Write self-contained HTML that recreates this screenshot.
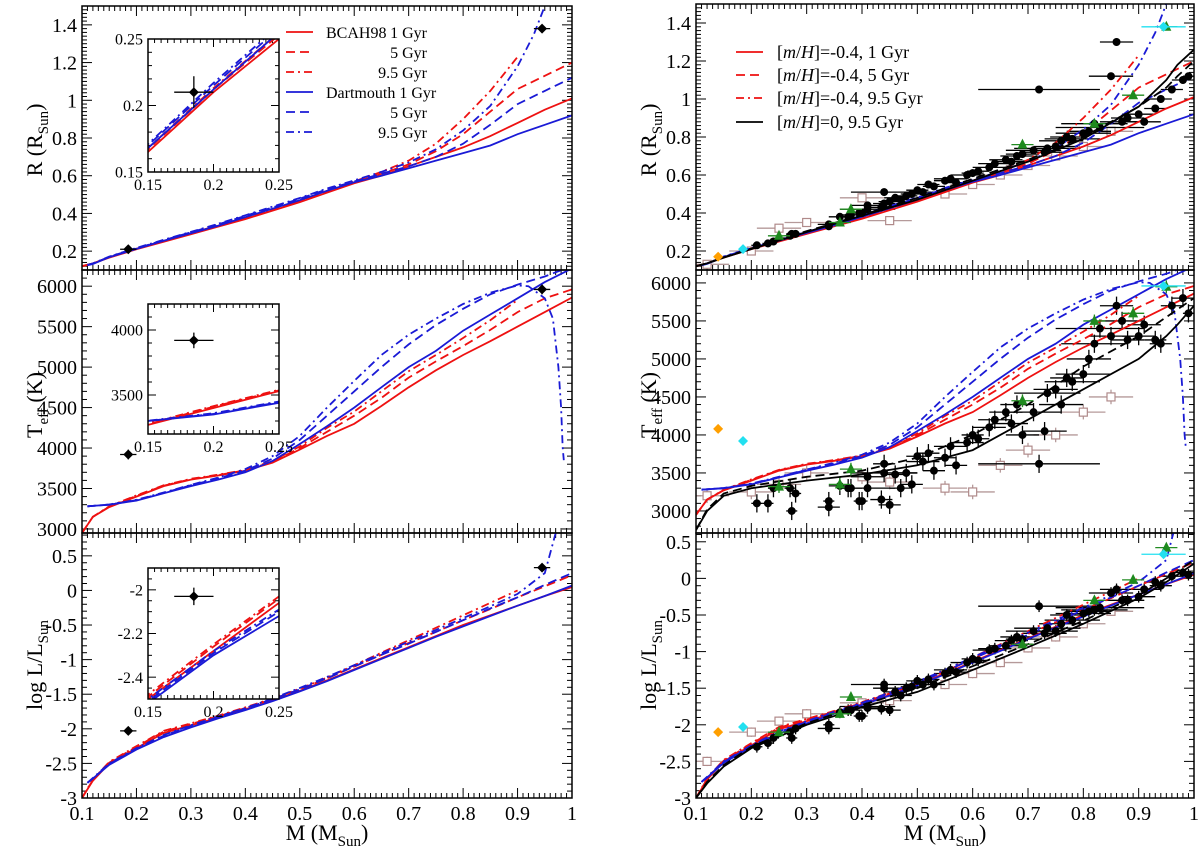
<!DOCTYPE html>
<html><head><meta charset="utf-8">
<style>
html,body{margin:0;padding:0;background:#fff;}
svg{display:block;font-family:"Liberation Serif",serif;}
</style></head>
<body>
<svg id="chart" width="1200" height="851" viewBox="0 0 1200 851" xmlns="http://www.w3.org/2000/svg"></svg>
<script>
// ---------- model data ----------
const mBcah1 = [0.1,0.12,0.15,0.2,0.25,0.3,0.35,0.4,0.45,0.5,0.55,0.6,0.65,0.7,0.75,0.8,0.85,0.9,0.95,1.0];
const rBcah1 = [0.12,0.135,0.165,0.21,0.25,0.29,0.33,0.37,0.415,0.46,0.51,0.56,0.60,0.65,0.70,0.75,0.81,0.88,0.95,1.01];
const mBcah5 = [0.1,0.12,0.15,0.2,0.25,0.3,0.35,0.4,0.45,0.5,0.55,0.6,0.65,0.7,0.75,0.8,0.85,0.9,0.95,1.0];
const rBcah5 = [0.12,0.135,0.167,0.212,0.253,0.293,0.335,0.375,0.42,0.465,0.515,0.565,0.61,0.66,0.73,0.82,0.94,1.06,1.13,1.2];
const mBcah95 = [0.1,0.12,0.15,0.2,0.25,0.3,0.35,0.4,0.45,0.5,0.55,0.6,0.65,0.7,0.75,0.8,0.85,0.9];
const rBcah95 = [0.12,0.135,0.168,0.213,0.255,0.295,0.337,0.378,0.423,0.468,0.52,0.57,0.62,0.68,0.77,0.9,1.05,1.23];
const mDart1 = [0.11,0.12,0.15,0.2,0.25,0.3,0.35,0.4,0.45,0.5,0.55,0.6,0.65,0.7,0.75,0.8,0.85,0.9,0.95,1.0];
const rDart1 = [0.125,0.132,0.168,0.212,0.255,0.295,0.335,0.38,0.425,0.47,0.52,0.565,0.60,0.64,0.68,0.72,0.76,0.82,0.87,0.92];
const mDart5 = [0.11,0.12,0.15,0.2,0.25,0.3,0.35,0.4,0.45,0.5,0.55,0.6,0.65,0.7,0.75,0.8,0.85,0.9,0.95,1.0];
const rDart5 = [0.126,0.134,0.17,0.215,0.258,0.3,0.342,0.387,0.432,0.478,0.528,0.57,0.61,0.65,0.70,0.77,0.87,0.98,1.05,1.12];
const mDart95 = [0.11,0.12,0.15,0.2,0.25,0.3,0.35,0.4,0.45,0.5,0.55,0.6,0.65,0.7,0.75,0.8,0.85,0.9,0.93,0.95];
const rDart95 = [0.127,0.135,0.171,0.217,0.26,0.302,0.345,0.39,0.436,0.482,0.532,0.575,0.62,0.67,0.74,0.84,0.97,1.18,1.35,1.5];

const tBcah1 = [2950,3150,3270,3400,3530,3610,3660,3720,3820,3980,4150,4300,4520,4750,4960,5150,5320,5500,5680,5860];
const tBcah5 = [2950,3150,3275,3410,3535,3615,3665,3725,3830,4000,4200,4400,4620,4870,5070,5260,5460,5680,5850,5960];
const tBcah95 = [2950,3150,3280,3415,3540,3620,3670,3730,3840,4020,4250,4450,4700,4950,5150,5360,5580,5830];
const tDart1 = [3280,3285,3300,3350,3440,3530,3610,3700,3840,4050,4270,4500,4750,5000,5200,5450,5650,5850,6050,6220];
const tDart5 = [3280,3285,3300,3355,3445,3540,3625,3720,3870,4100,4400,4700,5000,5280,5520,5720,5900,6020,6120,6250];
const mDart95T = [0.11,0.12,0.15,0.2,0.25,0.3,0.35,0.4,0.45,0.5,0.55,0.6,0.65,0.7,0.75,0.8,0.85,0.9,0.92,0.95,0.965,0.975,0.98,0.983,0.985];
const tDart95 = [3280,3285,3302,3360,3450,3545,3635,3740,3900,4150,4500,4830,5150,5400,5600,5780,5920,6010,6000,5850,5600,5000,4500,4000,3850];

const lBcah1 = [-3.0,-2.75,-2.5,-2.28,-2.06,-1.95,-1.84,-1.72,-1.59,-1.45,-1.3,-1.14,-0.98,-0.82,-0.66,-0.5,-0.36,-0.22,-0.08,0.05];
const lBcah5 = [-3.0,-2.74,-2.49,-2.26,-2.04,-1.93,-1.82,-1.7,-1.57,-1.43,-1.27,-1.1,-0.93,-0.76,-0.6,-0.43,-0.27,-0.1,0.06,0.22];
const lBcah95 = [-3.0,-2.73,-2.48,-2.25,-2.03,-1.92,-1.81,-1.69,-1.56,-1.42,-1.26,-1.08,-0.9,-0.72,-0.54,-0.36,-0.18,0.0];
const lDart1 = [-2.78,-2.72,-2.52,-2.3,-2.12,-1.98,-1.85,-1.73,-1.6,-1.46,-1.31,-1.15,-0.99,-0.83,-0.67,-0.52,-0.37,-0.22,-0.08,0.07];
const lDart5 = [-2.78,-2.72,-2.51,-2.29,-2.1,-1.96,-1.83,-1.71,-1.57,-1.43,-1.27,-1.1,-0.93,-0.77,-0.6,-0.43,-0.26,-0.1,0.08,0.25];
const mDart95L = [0.11,0.12,0.15,0.2,0.25,0.3,0.35,0.4,0.45,0.5,0.55,0.6,0.65,0.7,0.75,0.8,0.85,0.9,0.95,0.97];
const lDart95 = [-2.78,-2.71,-2.5,-2.28,-2.09,-1.95,-1.82,-1.7,-1.56,-1.41,-1.25,-1.08,-0.91,-0.74,-0.57,-0.4,-0.23,-0.05,0.25,0.83];

// solar metallicity 9.5 Gyr (right panels, black)
const mSolar = [0.1,0.12,0.15,0.2,0.3,0.4,0.5,0.6,0.7,0.8,0.9,0.95,0.97,1.0];
const rSolarA = [0.12,0.135,0.165,0.21,0.3,0.385,0.47,0.57,0.67,0.79,0.96,1.1,1.18,1.26];
const rSolarB = [0.12,0.136,0.167,0.213,0.305,0.39,0.48,0.58,0.68,0.8,0.96,1.06,1.12,1.2];
const tSolarA = [2750,3000,3200,3300,3400,3480,3600,3800,4200,4600,5000,5300,5450,5700];
const tSolarB = [2750,3020,3230,3330,3450,3530,3700,4000,4400,4900,5300,5550,5650,5800];
const lSolarA = [-3.0,-2.8,-2.57,-2.32,-2.0,-1.76,-1.55,-1.25,-0.94,-0.62,-0.27,-0.05,0.05,0.2];
const lSolarB = [-3.0,-2.78,-2.55,-2.3,-1.98,-1.73,-1.5,-1.2,-0.9,-0.58,-0.23,0.0,0.1,0.25];

// ---------- observations ----------
const obsM = [0.21,0.23,0.24,0.27,0.273,0.28,0.34,0.34,0.36,0.375,0.38,0.395,0.4,0.41,0.41,0.435,0.44,0.44,0.45,0.46,0.47,0.48,0.49,0.5,0.51,0.52,0.53,0.55,0.56,0.57,0.59,0.6,0.61,0.63,0.64,0.66,0.67,0.68,0.69,0.71,0.72,0.73,0.735,0.75,0.76,0.77,0.78,0.8,0.81,0.82,0.83,0.85,0.86,0.87,0.88,0.9,0.91,0.93,0.94,0.96,0.98,0.99];
const obsR = [0.23,0.24,0.25,0.28,0.29,0.29,0.33,0.34,0.38,0.38,0.39,0.4,0.4,0.44,0.42,0.43,0.51,0.45,0.46,0.48,0.47,0.49,0.5,0.52,0.51,0.55,0.54,0.57,0.58,0.56,0.6,0.61,0.62,0.64,0.66,0.68,0.67,0.7,0.71,0.73,1.05,0.72,0.74,0.75,0.78,0.8,0.79,0.82,0.83,0.87,0.85,1.12,1.3,0.88,0.9,0.92,0.88,0.95,1.0,1.05,1.1,1.12];
const obsT = [3100,3100,3300,3300,3000,3230,3130,3050,3330,3300,3300,3130,3130,3450,3300,3150,3500,3620,3080,3480,3300,3500,3350,3720,3650,3760,3530,3700,3850,3600,3900,4000,3950,4100,4200,4300,4150,4400,4000,4300,3620,4050,4550,4600,4400,4750,4700,4800,5000,5200,5400,5300,5700,5500,5250,5300,5450,5250,5200,5700,5800,5600];
const obsL = [-2.3,-2.25,-2.18,-2.1,-2.18,-2.05,-2.0,-2.05,-1.83,-1.8,-1.8,-1.88,-1.88,-1.77,-1.75,-1.78,-1.45,-1.5,-1.8,-1.55,-1.6,-1.5,-1.48,-1.4,-1.45,-1.38,-1.45,-1.3,-1.25,-1.28,-1.15,-1.1,-1.12,-0.98,-0.96,-0.92,-0.85,-0.8,-0.83,-0.72,-0.38,-0.75,-0.68,-0.72,-0.62,-0.5,-0.57,-0.48,-0.45,-0.43,-0.4,-0.2,-0.15,-0.3,-0.3,-0.25,-0.15,-0.05,-0.1,0.03,0.08,0.05];
const obsErrM = [0.01,0.01,0.01,0.01,0.01,0.01,0.01,0.02,0.02,0.01,0.02,0.01,0.01,0.03,0.05,0.02,0.06,0.02,0.02,0.02,0.02,0.02,0.02,0.02,0.03,0.02,0.02,0.02,0.03,0.02,0.03,0.02,0.02,0.03,0.03,0.03,0.03,0.03,0.03,0.05,0.11,0.04,0.06,0.04,0.04,0.03,0.05,0.05,0.04,0.06,0.08,0.04,0.03,0.04,0.03,0.03,0.03,0.02,0.02,0.02,0.02,0.01];

const sqM = [0.12,0.2,0.25,0.3,0.4,0.45,0.55,0.6,0.65,0.7,0.75,0.8,0.85];
const sqR = [0.13,0.2,0.32,0.35,0.48,0.36,0.5,0.55,0.6,0.65,0.7,0.75,0.83];
const sqT = [3200,3250,3350,3500,3450,3380,3300,3250,3600,3800,4000,4300,4500];
const sqL = [-2.5,-2.1,-1.95,-1.85,-1.7,-1.67,-1.45,-1.3,-1.15,-0.95,-0.8,-0.62,-0.45];

const triM = [0.25,0.36,0.38,0.69,0.82,0.89,0.95];
const triR = [0.28,0.35,0.42,0.76,0.87,1.02,1.38];
const triT = [3320,3350,3550,4450,5500,5600,5950];
const triL = [-2.1,-1.85,-1.62,-0.9,-0.3,-0.02,0.42];

const orangeM = [0.14]; const orangeR = [0.17]; const orangeT = [4080]; const orangeL = [-2.1];
const cyanM = [0.185,0.945]; const cyanR = [0.21,1.38]; const cyanT = [3920,5960]; const cyanL = [-2.03,0.33];

// single target star (left panels)
const starM = [0.185,0.945];
const starR = [0.21,1.38];
const starT = [3920,5960];
const starL = [-2.03,0.33];

// tick label arrays
const xTickLabels = ["0.1","0.2","0.3","0.4","0.5","0.6","0.7","0.8","0.9","1"];
const rTickLabels = ["0.2","0.4","0.6","0.8","1","1.2","1.4"];
const tTickLabels = ["3000","3500","4000","4500","5000","5500","6000"];
const lTickLabels = ["-3","-2.5","-2","-1.5","-1","-0.5","0","0.5"];

// ---------- drawing ----------
const NS = "http://www.w3.org/2000/svg";
const svg = document.getElementById("chart");
function mk(tag, attrs, parent) {
  const e = document.createElementNS(NS, tag);
  for (const k in attrs) e.setAttribute(k, attrs[k]);
  (parent || svg).appendChild(e);
  return e;
}
function scale(px0, px1, py0, py1, xmin, xmax, ymin, ymax) {
  return {px0, px1, py0, py1, xmin, xmax, ymin, ymax,
    sx: v => px0 + (v - xmin) / (xmax - xmin) * (px1 - px0),
    sy: v => py1 - (v - ymin) / (ymax - ymin) * (py1 - py0)};
}
let clipId = 0;
function clipFor(s) {
  const id = "clip" + (clipId++);
  const cp = mk("clipPath", {id});
  mk("rect", {x: s.px0, y: s.py0, width: s.px1 - s.px0, height: s.py1 - s.py0}, cp);
  return "url(#" + id + ")";
}
const COLORS = {red: "#ee1111", blue: "#1a1ad6", black: "#000"};
const DASH = {solid: "", dash: "9,5", dashdot: "8,4,2,4"};
function curve(s, xs, ys, color, style, name, clip, w) {
  const pts = xs.map((x, i) => s.sx(x).toFixed(1) + "," + s.sy(ys[i]).toFixed(1)).join(" ");
  const p = mk("polyline", {points: pts, fill: "none", stroke: COLORS[color], "stroke-width": w || 1.8, "stroke-dasharray": DASH[style], "clip-path": clip});
  
  
}
function ticks(s, axis, major, minorN, len) {
  const g = mk("g", {stroke: "#000", "stroke-width": 1});
  
  
  const lo = axis === "x" ? s.xmin : s.ymin, hi = axis === "x" ? s.xmax : s.ymax;
  const step = major / minorN;
  const start = Math.ceil(lo / step - 1e-6);
  for (let k = start; k * step <= hi + 1e-9; k++) {
    const v = k * step;
    const isMaj = Math.abs(v / major - Math.round(v / major)) < 1e-6;
    const L = isMaj ? len : len * 0.5;
    if (axis === "x") {
      const x = s.sx(v);
      mk("line", {x1: x, y1: s.py1, x2: x, y2: s.py1 - L}, g);
      mk("line", {x1: x, y1: s.py0, x2: x, y2: s.py0 + L}, g);
    } else {
      const y = s.sy(v);
      mk("line", {x1: s.px0, y1: y, x2: s.px0 + L, y2: y}, g);
      mk("line", {x1: s.px1, y1: y, x2: s.px1 - L, y2: y}, g);
    }
  }
}
function frame(s, name) {
  const r = mk("rect", {x: s.px0, y: s.py0, width: s.px1 - s.px0, height: s.py1 - s.py0, fill: "none", stroke: "#000", "stroke-width": 1.5});
  
  
}
function yLabels(s, labels, first, step, fs, name) {
  labels.forEach((t, i) => {
    const v = first + i * step;
    const e = mk("text", {x: s.px0 - 5, y: s.sy(v) + fs * 0.35, "font-size": fs, "text-anchor": "end"});
    e.textContent = t;
    
    
  });
}
function xLabels(s, labels, first, step, fs, dy, name) {
  labels.forEach((t, i) => {
    const v = first + i * step;
    const e = mk("text", {x: s.sx(v), y: s.py1 + dy, "font-size": fs, "text-anchor": "middle"});
    e.textContent = t;
    
    
  });
}
function errPoint(s, x, y, ex, ey, color, clip) {
  const g = mk("g", {stroke: color, "stroke-width": 1.3, "clip-path": clip});
  
  
  if (ex) mk("line", {x1: s.sx(x - ex), y1: s.sy(y), x2: s.sx(x + ex), y2: s.sy(y)}, g);
  if (ey) mk("line", {x1: s.sx(x), y1: s.sy(y - ey), x2: s.sx(x), y2: s.sy(y + ey)}, g);
}
function diamond(s, x, y, r, color, name, clip) {
  const cx = s.sx(x), cy = s.sy(y);
  const p = mk("polygon", {points: `${cx},${cy-r} ${cx+r},${cy} ${cx},${cy+r} ${cx-r},${cy}`, fill: color, "clip-path": clip});
  
  
}
function modelSet(s, clip, kind) {
  const d = {R: [rBcah1, rBcah5, rBcah95, rDart1, rDart5, rDart95],
             T: [tBcah1, tBcah5, tBcah95, tDart1, tDart5, tDart95],
             L: [lBcah1, lBcah5, lBcah95, lDart1, lDart5, lDart95]}[kind];
  const m95 = kind === "T" ? mDart95T : kind === "L" ? mDart95L : mDart95;
  curve(s, mBcah95, d[2], "red", "dashdot", "bcah98-9.5gyr-line", clip);
  curve(s, mBcah5, d[1], "red", "dash", "bcah98-5gyr-line", clip);
  curve(s, mBcah1, d[0], "red", "solid", "bcah98-1gyr-line", clip);
  curve(s, m95, d[5], "blue", "dashdot", "dartmouth-9.5gyr-line", clip);
  curve(s, mDart5, d[4], "blue", "dash", "dartmouth-5gyr-line", clip);
  curve(s, mDart1, d[3], "blue", "solid", "dartmouth-1gyr-line", clip);
}

const XL0 = 82, XL1 = 572, XR0 = 696, XR1 = 1194;
const panels = {
  L1: scale(XL0, XL1, 6, 270, 0.1, 1.0, 0.1, 1.5),
  L2: scale(XL0, XL1, 270, 533, 0.1, 1.0, 2950, 6200),
  L3: scale(XL0, XL1, 533, 798, 0.1, 1.0, -3, 0.83),
  R1: scale(XR0, XR1, 4, 270, 0.1, 1.0, 0.1, 1.5),
  R2: scale(XR0, XR1, 270, 533, 0.1, 1.0, 2710, 6170),
  R3: scale(XR0, XR1, 533, 798, 0.1, 1.0, -3, 0.62)
};
const kinds = {1: "R", 2: "T", 3: "L"};
const yTickCfg = {R: [0.2, 10], T: [500, 5], L: [0.5, 5]};
const starVals = {R: starR, T: starT, L: starL};
const starErrY = {R: 0.012, T: 60, L: 0.05};

[1, 2, 3].forEach(n => {
  const s = panels["L" + n], k = kinds[n], clip = clipFor(s);
  ticks(s, "x", 0.1, 10, 10);
  ticks(s, "y", yTickCfg[k][0], yTickCfg[k][1], 10);
  modelSet(s, clip, k);
  starM.forEach((m, i) => {
    errPoint(s, m, starVals[k][i], 0.015, starErrY[k], "#000", clip);
    diamond(s, m, starVals[k][i], 5, "#000", "target-star-point", clip);
  });
  frame(s, "left-panel-" + n + "-frame");
});
const obsVals = {R: obsR, T: obsT, L: obsL};
const sqVals = {R: sqR, T: sqT, L: sqL};
const triVals = {R: triR, T: triT, L: triL};
const orVals = {R: orangeR, T: orangeT, L: orangeL};
const cyVals = {R: cyanR, T: cyanT, L: cyanL};
const solarA = {R: rSolarA, T: tSolarA, L: lSolarA};
const solarB = {R: rSolarB, T: tSolarB, L: lSolarB};
const obsErrY = {R: 0.02, T: 120, L: 0.08};
[1, 2, 3].forEach(n => {
  const s = panels["R" + n], k = kinds[n], clip = clipFor(s);
  ticks(s, "x", 0.1, 10, 10);
  ticks(s, "y", yTickCfg[k][0], yTickCfg[k][1], 10);
  sqM.forEach((m, i) => {
    errPoint(s, m, sqVals[k][i], 0.04, obsErrY[k] * 0.8, "#b59a9a", clip);
    const r = mk("rect", {x: s.sx(m) - 4, y: s.sy(sqVals[k][i]) - 4, width: 8, height: 8, fill: "#fff", stroke: "#b08a8a", "stroke-width": 1.2, "clip-path": clip});
    
    
  });
  obsM.forEach((m, i) => {
    errPoint(s, m, obsVals[k][i], obsErrM[i], obsErrY[k], "#000", clip);
  });
  modelSet(s, clip, k);
  curve(s, mSolar, solarB[k], "black", "dash", "solar-9.5gyr-dartmouth-line", clip);
  curve(s, mSolar, solarA[k], "black", "solid", "solar-9.5gyr-bcah98-line", clip);
  obsM.forEach((m, i) => {
    const c = mk("circle", {cx: s.sx(m), cy: s.sy(obsVals[k][i]), r: 4, fill: "#000", "clip-path": clip});
    
    
  });
  triM.forEach((m, i) => {
    errPoint(s, m, triVals[k][i], 0.02, obsErrY[k] * 0.7, "#228b22", clip);
    const cx = s.sx(m), cy = s.sy(triVals[k][i]);
    const t = mk("polygon", {points: `${cx},${cy-6} ${cx+5},${cy+4} ${cx-5},${cy+4}`, fill: "#1e8a1e", "clip-path": clip});
    
    
  });
  orangeM.forEach((m, i) => diamond(s, m, orVals[k][i], 5, "#ff9f00", "orange-diamond-point", clip));
  cyanM.forEach((m, i) => {
    if (i === 1) errPoint(s, m, cyVals[k][i], 0.04, 0, "#22e0f0", clip);
    diamond(s, m, cyVals[k][i], 5, "#22e0f0", "cyan-diamond-point", clip);
  });
  frame(s, "right-panel-" + n + "-frame");
});

["L", "R"].forEach(side => {
  yLabels(panels[side + "1"], rTickLabels, 0.2, 0.2, 20, "r-tick-label");
  yLabels(panels[side + "2"], tTickLabels, 3000, 500, 20, "teff-tick-label");
  yLabels(panels[side + "3"], lTickLabels, -3, 0.5, 20, "logl-tick-label");
  xLabels(panels[side + "3"], xTickLabels, 0.1, 0.1, 20, 22, "mass-tick-label");
});

const insets = [
  {s: scale(148, 279, 39, 172, 0.15, 0.25, 0.15, 0.25), k: "R", yt: [0.05, 5], labs: ["0.15", "0.2", "0.25"], y0: 0.15, ys: 0.05},
  {s: scale(148, 279, 304, 434, 0.15, 0.25, 3200, 4200), k: "T", yt: [500, 5], labs: ["3500", "4000"], y0: 3500, ys: 500},
  {s: scale(148, 279, 568, 699, 0.15, 0.25, -2.5, -1.9), k: "L", yt: [0.2, 4], labs: ["-2.4", "-2.2", "-2"], y0: -2.4, ys: 0.2}
];
const inXLabels = ["0.15", "0.2", "0.25"];
insets.forEach((ins, n) => {
  const s = ins.s;
  const bg = mk("rect", {x: s.px0, y: s.py0, width: s.px1 - s.px0, height: s.py1 - s.py0, fill: "#fff"});
  
  
  const clip = clipFor(s);
  ticks(s, "x", 0.05, 10, 8);
  ticks(s, "y", ins.yt[0], ins.yt[1], 8);
  modelSet(s, clip, ins.k);
  errPoint(s, starM[0], starVals[ins.k][0], 0.015, starErrY[ins.k] * (ins.k === "L" ? 0.8 : 1), "#000", clip);
  diamond(s, starM[0], starVals[ins.k][0], 5, "#000", "inset-star-point", clip);
  frame(s, "inset-" + (n + 1) + "-frame");
  yLabels(s, ins.labs, ins.y0, ins.ys, 16, "inset-y-tick-label");
  xLabels(s, inXLabels, 0.15, 0.05, 16, 18, "inset-x-tick-label");
});
</script>
<svg width="1200" height="851" style="position:absolute;left:0;top:0" xmlns="http://www.w3.org/2000/svg" font-family="Liberation Serif, serif">
  <g font-size="16">
    <line x1="286" y1="32" x2="313" y2="32" stroke="#ee1111" stroke-width="1.8"/>
    <line x1="286" y1="52" x2="313" y2="52" stroke="#ee1111" stroke-width="1.8" stroke-dasharray="9,5"/>
    <line x1="286" y1="72" x2="313" y2="72" stroke="#ee1111" stroke-width="1.8" stroke-dasharray="8,4,2,4"/>
    <line x1="286" y1="92" x2="313" y2="92" stroke="#1a1ad6" stroke-width="1.8"/>
    <line x1="286" y1="112" x2="313" y2="112" stroke="#1a1ad6" stroke-width="1.8" stroke-dasharray="9,5"/>
    <line x1="286" y1="132" x2="313" y2="132" stroke="#1a1ad6" stroke-width="1.8" stroke-dasharray="8,4,2,4"/>
    <text x="326" y="38">BCAH98</text>
    <text x="427" y="38" text-anchor="end">1 Gyr</text>
    <text x="427" y="58" text-anchor="end">5 Gyr</text>
    <text x="427" y="78" text-anchor="end">9.5 Gyr</text>
    <text x="326" y="98">Dartmouth 1 Gyr</text>
    <text x="427" y="118" text-anchor="end">5 Gyr</text>
    <text x="427" y="138" text-anchor="end">9.5 Gyr</text>
  </g>
  <g font-size="18">
    <line x1="736" y1="52" x2="763" y2="52" stroke="#ee1111" stroke-width="1.8"/>
    <line x1="736" y1="75" x2="763" y2="75" stroke="#ee1111" stroke-width="1.8" stroke-dasharray="9,5"/>
    <line x1="736" y1="98" x2="763" y2="98" stroke="#ee1111" stroke-width="1.8" stroke-dasharray="8,4,2,4"/>
    <line x1="736" y1="122" x2="763" y2="122" stroke="#000" stroke-width="1.8"/>
    <text x="777" y="58">[<tspan font-style="italic">m</tspan>/<tspan font-style="italic">H</tspan>]=-0.4, 1 Gyr</text>
    <text x="777" y="81">[<tspan font-style="italic">m</tspan>/<tspan font-style="italic">H</tspan>]=-0.4, 5 Gyr</text>
    <text x="777" y="104">[<tspan font-style="italic">m</tspan>/<tspan font-style="italic">H</tspan>]=-0.4, 9.5 Gyr</text>
    <text x="777" y="128">[<tspan font-style="italic">m</tspan>/<tspan font-style="italic">H</tspan>]=0, 9.5 Gyr</text>
  </g>
  <g font-size="22">
    <text transform="translate(42,140) rotate(-90)" text-anchor="middle">R (R<tspan font-size="15" dy="6">Sun</tspan><tspan dy="-6">)</tspan></text>
    <text transform="translate(42,405) rotate(-90)" text-anchor="middle">T<tspan font-size="15" dy="6">eff</tspan><tspan dy="-6"> (K)</tspan></text>
    <text transform="translate(42,665) rotate(-90)" text-anchor="middle">log L/L<tspan font-size="15" dy="6">Sun</tspan></text>
    <text transform="translate(656,140) rotate(-90)" text-anchor="middle">R (R<tspan font-size="15" dy="6">Sun</tspan><tspan dy="-6">)</tspan></text>
    <text transform="translate(656,405) rotate(-90)" text-anchor="middle">T<tspan font-size="15" dy="6">eff</tspan><tspan dy="-6"> (K)</tspan></text>
    <text transform="translate(656,665) rotate(-90)" text-anchor="middle">log L/L<tspan font-size="15" dy="6">Sun</tspan></text>
    <text x="327" y="840" text-anchor="middle">M (M<tspan font-size="15" dy="6">Sun</tspan><tspan dy="-6">)</tspan></text>
    <text x="945" y="840" text-anchor="middle">M (M<tspan font-size="15" dy="6">Sun</tspan><tspan dy="-6">)</tspan></text>
  </g>
</svg>
<style>body{position:relative;width:1200px;height:851px;overflow:hidden;}</style>
</body></html>
